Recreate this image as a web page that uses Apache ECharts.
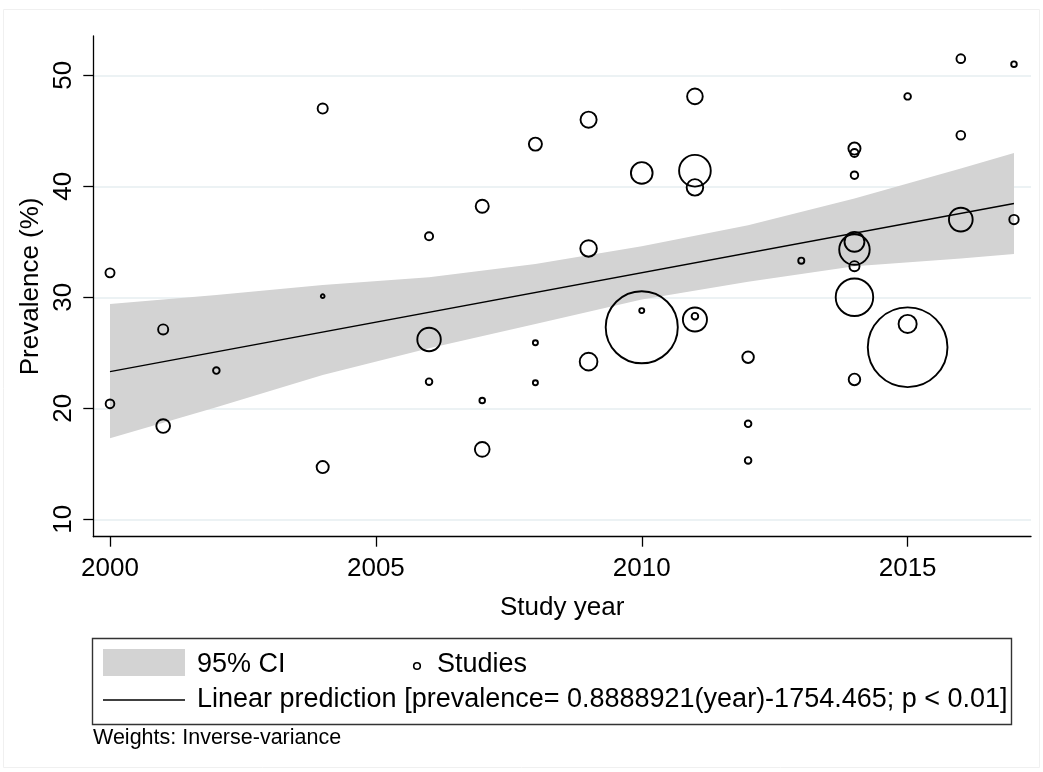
<!DOCTYPE html>
<html>
<head>
<meta charset="utf-8">
<script src="https://cdn.jsdelivr.net/npm/echarts@6/dist/echarts.min.js"></script>
<style>
html,body{margin:0;padding:0;background:#fff;}
#chart{width:1043px;height:772px;}
</style>
</head>
<body>
<div id="chart"></div>
<script>
// ---- data ----
const studyYear = [2000,2000,2001,2001,2002,2004,2004,2004,2006,2006,2006,2007,2007,2007,2008,2008,2008,2009,2009,2009,2010,2010,2010,2011,2011,2011,2011,2011,2012,2012,2012,2013,2014,2014,2014,2014,2014,2014,2014,2014,2015,2015,2015,2016,2016,2016,2017,2017];
const prevalence = [32.2,20.4,27.1,18.4,23.4,47.0,30.1,14.7,35.5,26.2,22.4,38.2,20.7,16.3,43.8,25.9,22.3,46.0,34.4,24.2,41.2,28.8,27.3,48.1,41.4,39.9,28.3,28.0,24.6,18.6,15.3,33.3,43.4,43.0,41.0,35.0,34.3,32.8,30.0,22.6,48.1,27.6,25.5,51.5,44.6,37.0,51.0,37.0];
// relative inverse-variance weights (marker area)
const weights = [30,28,36,61,18,36,8,49,25,161,18,56,14,69,56,12,12,81,85,96,139,12,1369,77,282,85,18,169,45,18,18,16,49,25,22,119,262,36,388,45,18,100,1665,28,28,164,14,32];

const ciYears = [2000,2002,2004,2006,2008,2010,2012,2014,2016,2017];
const ciLower = [17.3,20.1,23.0,25.4,27.6,29.8,31.4,32.8,33.5,33.9];
const ciUpper = [29.4,30.2,31.1,31.8,33.0,34.6,36.5,38.9,41.6,43.0];

const fitYears = [2000,2017];
const fitValues = [23.3,38.45];

const xTicks = [2000,2005,2010,2015];
const yTicks = [10,20,30,40,50];

const legendCI = '95% CI';
const legendStudies = 'Studies';
const legendFit = 'Linear prediction [prevalence= 0.8888921(year)-1754.465; p < 0.01]';
const noteText = 'Weights: Inverse-variance';
const xTitle = 'Study year';
const yTitle = 'Prevalence (%)';

// ---- chart ----
const FONT = '"Liberation Sans", Arial, sans-serif';
const chart = echarts.init(document.getElementById('chart'), null, {renderer:'canvas'});

const scatterData = studyYear.map((y,i)=>[y, prevalence[i], weights[i]]);
const bandData = ciYears.map((y,i)=>[y, ciLower[i], ciUpper[i]]);
const fitData = fitYears.map((y,i)=>[y, fitValues[i]]);

const option = {
  backgroundColor:'#ffffff',
  animation:false,
  grid:{left:93.3, right:12, top:36, bottom:235.3, containLabel:false},
  xAxis:{
    type:'value', min:1999.686, max:2017.32,
    name:xTitle, nameLocation:'middle', nameGap:58,
    nameTextStyle:{fontFamily:FONT, fontSize:26, color:'#000'},
    axisLine:{show:true, onZero:false, lineStyle:{color:'#000', width:1.3}},
    axisTick:{show:true, length:10, customValues:xTicks, lineStyle:{color:'#000', width:1.3}},
    axisLabel:{customValues:xTicks, margin:19, fontFamily:FONT, fontSize:26, color:'#000',
      formatter:v=>String(v)},
    splitLine:{show:false}
  },
  yAxis:{
    type:'value', min:8.43, max:53.54,
    name:yTitle, nameLocation:'middle', nameGap:40, nameRotate:90,
    nameTextStyle:{fontFamily:FONT, fontSize:26, color:'#000'},
    axisLine:{show:true, onZero:false, lineStyle:{color:'#000', width:1.3}},
    axisTick:{show:true, length:10, customValues:yTicks, lineStyle:{color:'#000', width:1.3}},
    axisLabel:{customValues:yTicks, rotate:90, margin:16, fontFamily:FONT, fontSize:26, color:'#000',
      formatter:v=>String(v)},
    splitLine:{show:true, lineStyle:{color:'#e6eef0', width:1.6}}
  },
  series:[
    {
      type:'custom', name:legendCI, z:1,
      data:bandData,
      encode:{x:0, y:[1,2]},
      renderItem:function(params, api){
        if(params.dataIndex !== 0) return null;
        const pts = [];
        for(let i=0;i<ciYears.length;i++) pts.push(api.coord([ciYears[i], ciUpper[i]]));
        for(let i=ciYears.length-1;i>=0;i--) pts.push(api.coord([ciYears[i], ciLower[i]]));
        return {type:'polygon', shape:{points:pts}, style:{fill:'#d3d3d3', stroke:null}};
      }
    },
    {
      type:'line', name:legendFit, z:2, data:fitData, symbol:'none',
      lineStyle:{color:'#000', width:1.3}
    },
    {
      type:'scatter', name:legendStudies, z:3, data:scatterData,
      symbol:'circle',
      symbolSize:function(d){ return Math.max(2*Math.sqrt(d[2]) - 1.9, 3); },
      itemStyle:{color:'rgba(0,0,0,0)', borderColor:'#000', borderWidth:1.9, opacity:1}
    }
  ],
  graphic:[
    {type:'rect', shape:{x:3.5, y:9.5, width:1036, height:758}, style:{fill:null, stroke:'#f0f0f0', lineWidth:1}, silent:true, z:-10},
    {type:'rect', shape:{x:92.5, y:638.5, width:919, height:86}, style:{fill:'#fff', stroke:'#333', lineWidth:1.4}, z:10},
    {type:'rect', shape:{x:103, y:649, width:82, height:27}, style:{fill:'#d3d3d3'}, z:11},
    {type:'text', x:197, y:665, style:{text:legendCI, font:'27px '+FONT, fill:'#000', verticalAlign:'middle', align:'left'}, z:11},
    {type:'circle', shape:{cx:417, cy:666, r:3.3}, style:{fill:null, stroke:'#000', lineWidth:1.6}, z:11},
    {type:'text', x:437, y:665, style:{text:legendStudies, font:'27px '+FONT, fill:'#000', verticalAlign:'middle', align:'left'}, z:11},
    {type:'line', shape:{x1:103, y1:700, x2:185, y2:700}, style:{stroke:'#000', lineWidth:1.3}, z:11},
    {type:'text', x:197, y:700, style:{text:legendFit, font:'27px '+FONT, fill:'#000', verticalAlign:'middle', align:'left'}, z:11},
    {type:'text', x:93, y:738, style:{text:noteText, font:'21.5px '+FONT, fill:'#000', verticalAlign:'middle', align:'left'}, z:11}
  ]
};
chart.setOption(option);
</script>
</body>
</html>
